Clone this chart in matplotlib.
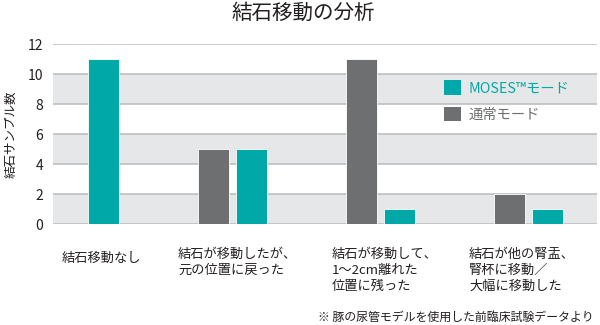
import matplotlib.pyplot as plt
import numpy as np
from matplotlib.patches import Patch

plt.rcParams['font.family'] = ['Noto Sans CJK JP', 'DejaVu Sans']

categories = ["結石移動なし",
              "結石が移動したが、\n元の位置に戻った",
              "結石が移動して、\n1〜2cm離れた\n位置に残った",
              "結石が他の腎盂、\n腎杯に移動／\n大幅に移動した"]
normal = [0, 5, 11, 2]
moses = [11, 5, 1, 1]
series_names = ["MOSES™モード", "通常モード"]

teal = "#00A9A8"
grey = "#6D6F71"
band = "#E6E7E8"
gridc = "#BDBFC1"
textc = "#231F20"

fig = plt.figure(figsize=(6, 3.25), dpi=100)
ax = fig.add_axes([53 / 600, 101 / 325, 544 / 600, 180 / 325])

x = np.arange(len(categories))
w = 0.21
off = 0.128
ax.bar(x - off, normal, w, color=grey, edgecolor="white", linewidth=0.6, zorder=3)
ax.bar(x + off, moses, w, color=teal, edgecolor="white", linewidth=0.6, zorder=3)

for lo in (0, 4, 8):
    ax.axhspan(lo, lo + 2, color=band, lw=0, zorder=0)
for yv in range(0, 13, 2):
    ax.axhline(yv, color=gridc, lw=1.2, zorder=1)

ax.set_xlim(-0.213, 3.463)
ax.set_ylim(0, 12)
ax.set_yticks(range(0, 13, 2))
ax.tick_params(axis="y", length=0, labelsize=10, labelcolor=textc, pad=7)
ax.set_xticks([])
for s in ax.spines.values():
    s.set_visible(False)
ax.set_ylabel("結石サンプル数", fontsize=9, color=textc, labelpad=7)

handles = [Patch(facecolor=teal), Patch(facecolor=grey)]
leg = ax.legend(handles, series_names, loc="upper left",
                bbox_to_anchor=(0.719, 0.80), frameon=False, fontsize=10.3,
                handlelength=1.2, handleheight=1.2, handletextpad=0.5,
                labelspacing=0.8, borderpad=0, borderaxespad=0)
for t, c in zip(leg.get_texts(), [teal, grey]):
    t.set_color(c)

label_x = [62, 178, 332, 469]
label_top = [252, 248, 248, 248]
for lab, lx, ly in zip(categories, label_x, label_top):
    fig.text(lx / 600, 1 - ly / 325, lab, ha="left", va="top",
             fontsize=9.5, color=textc, linespacing=1.3)

fig.text(303 / 600, 1 - 13 / 325, "結石移動の分析", ha="center", va="center",
         fontsize=14.8, color=textc)
fig.text(594 / 600, 1 - 317 / 325, "※ 豚の尿管モデルを使用した前臨床試験データより",
         ha="right", va="center", fontsize=8.6, color=textc)

fig.savefig("out.png", dpi=100)
